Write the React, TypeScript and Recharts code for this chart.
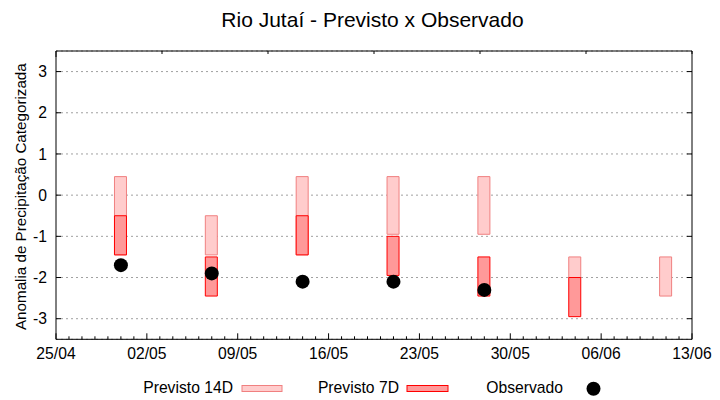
import React from 'react';
import { ComposedChart, Bar, Scatter, XAxis, YAxis, CartesianGrid, Legend } from 'recharts';

// ---- data ----
const dates = ['30/04', '07/05', '14/05', '21/05', '28/05', '04/06', '11/06'];
const prev14Low = [-1.45, -1.45, -1.45, -0.95, -0.95, -2.0, -2.45];
const prev14High = [0.45, -0.5, 0.45, 0.45, 0.45, -1.5, -1.5];
const prev7Low: (number | null)[] = [-1.45, -2.45, -1.45, -1.95, -2.45, -2.95, null];
const prev7High: (number | null)[] = [-0.5, -1.5, -0.5, -1.0, -1.5, -2.0, null];
const observed: (number | null)[] = [-1.7, -1.9, -2.1, -2.1, -2.3, null, null];

const tickLabels = ['25/04', '02/05', '09/05', '16/05', '23/05', '30/05', '06/06', '13/06'];
const yTicks = [-3, -2, -1, 0, 1, 2, 3];
const yDomain: [number, number] = [-3.5, 3.5];

const START = Date.UTC(2024, 3, 25);
const dayOf = (s: string) => {
  const [d, m] = s.split('/').map(Number);
  return Math.round((Date.UTC(2024, m - 1, d) - START) / 86400000);
};
const xDomain: [number, number] = [dayOf(tickLabels[0]), dayOf(tickLabels[tickLabels.length - 1])];
const majorTicks = tickLabels.map(dayOf);
const minorTicks: number[] = [];
for (let d = xDomain[0]; d <= xDomain[1]; d++) minorTicks.push(d);
const labelOf = (v: number) => tickLabels[majorTicks.indexOf(v)] ?? '';

const rows = dates.map((d, i) => ({
  day: dayOf(d),
  p14: [prev14Low[i], prev14High[i]],
  p7: prev7Low[i] == null ? null : [prev7Low[i], prev7High[i]],
}));
const obsRows = dates
  .map((d, i) => ({ day: dayOf(d), obs: observed[i] }))
  .filter((r) => r.obs != null);

// ---- styles ----
const FONT = '"Liberation Sans", Arial, sans-serif';
const FS = 15.7;
const C14_FILL = '#ffcccc';
const C14_STROKE = '#f08080';
const C7_FILL = '#ff9999';
const C7_STROKE = '#ff0000';

const isMajor = (v: number) => majorTicks.indexOf(v) >= 0;

const BottomTick = (p: any) => {
  const v = p.payload?.value;
  const major = isMajor(v);
  return (
    <g>
      <line x1={p.x} x2={p.x} y1={p.y} y2={p.y - (major ? 6 : 3)} stroke="#000" />
      {major && (
        <text x={p.x} y={p.y + 20} textAnchor="middle" fontFamily={FONT} fontSize={FS} fill="#000">
          {labelOf(v)}
        </text>
      )}
    </g>
  );
};

const TopTick = (p: any) => {
  const major = isMajor(p.payload?.value);
  return <line x1={p.x} x2={p.x} y1={p.y} y2={p.y + (major ? 6 : 3)} stroke="#000" />;
};

const LeftTick = (p: any) => (
  <g>
    <line x1={p.x} x2={p.x + 5} y1={p.y} y2={p.y} stroke="#000" />
    <text x={p.x - 9} y={p.y + 5.6} textAnchor="end" fontFamily={FONT} fontSize={FS} fill="#000">
      {p.payload?.value}
    </text>
  </g>
);

const RightTick = (p: any) => <line x1={p.x} x2={p.x - 5} y1={p.y} y2={p.y} stroke="#000" />;

const renderLegend = () => (
  <svg width={720} height={30} style={{ display: 'block' }}>
    <g fontFamily={FONT} fontSize={FS} fill="#000">
      <text x={233} y={22.5} textAnchor="end">Previsto 14D</text>
      <rect x={242} y={15.5} width={40} height={6} fill={C14_FILL} stroke={C14_STROKE} />
      <text x={399} y={22.5} textAnchor="end">Previsto 7D</text>
      <rect x={407} y={15.5} width={41} height={6} fill={C7_FILL} stroke={C7_STROKE} />
      <text x={563} y={22.5} textAnchor="end">Observado</text>
      <circle cx={593.5} cy={18.7} r={7} fill="#000" />
    </g>
  </svg>
);

const renderYLabel = (p: any) => {
  const vb = p.viewBox || { x: 0, y: 51, width: 56, height: 288 };
  const cx = 26;
  const cy = vb.y + vb.height / 2 + 1.5;
  return (
    <text
      x={cx}
      y={cy}
      transform={`rotate(-90 ${cx} ${cy})`}
      textAnchor="middle"
      fontFamily={FONT}
      fontSize={15.2}
      fill="#000"
    >
      Anomalia de Precipitação Categorizada
    </text>
  );
};

const dot = (p: any) => <circle cx={p.cx} cy={p.cy} r={7} fill="#000" />;

export default function App() {
  return (
    <div style={{ position: 'absolute', left: 0, top: 0, width: 720, height: 400, background: '#fff' }}>
      <svg width={720} height={40} style={{ position: 'absolute', left: 0, top: 0 }}>
        <text x={372.5} y={27.3} textAnchor="middle" fontFamily={FONT} fontSize={21} fill="#000">
          Rio Jutaí - Previsto x Observado
        </text>
      </svg>
      <ComposedChart
        width={720}
        height={400}
        data={rows}
        margin={{ top: 51, right: 28, bottom: 0, left: 0 }}
        style={{ position: 'absolute', left: 0, top: 0 }}
      >
        <CartesianGrid
          yAxisId="y"
          xAxisId="x"
          vertical={false}
          horizontal
          stroke="#a0a0a0"
          strokeDasharray="2 3"
        />
        {/* frame: top and right sides with inward ticks */}
        <XAxis xAxisId="top" orientation="top" mirror height={1} type="number" domain={xDomain}
          ticks={minorTicks} interval={0} tick={TopTick} tickLine={false} tickSize={0} tickMargin={0}
          stroke="#000" allowDataOverflow />
        <YAxis yAxisId="right" orientation="right" mirror width={1} type="number" domain={yDomain}
          ticks={yTicks} interval={0} tick={RightTick} tickLine={false} tickSize={0} tickMargin={0}
          stroke="#000" allowDataOverflow />

        {/* main axes */}
        <XAxis
          xAxisId="x"
          dataKey="day"
          type="number"
          domain={xDomain}
          ticks={minorTicks}
          interval={0}
          height={60.7}
          tickLine={false}
          tickSize={0}
          tickMargin={0}
          stroke="#000"
          tick={BottomTick}
          allowDataOverflow
        />
        <XAxis xAxisId="x7" dataKey="day" type="number" domain={xDomain} hide allowDataOverflow />
        <YAxis
          yAxisId="y"
          type="number"
          domain={yDomain}
          ticks={yTicks}
          interval={0}
          width={56}
          tickLine={false}
          tickSize={0}
          tickMargin={0}
          stroke="#000"
          tick={LeftTick}
          label={{ content: renderYLabel }}
          allowDataOverflow
        />

        <Legend
          layout="horizontal"
          align="center"
          verticalAlign="middle"
          wrapperStyle={{ top: 370, left: 0, width: 720, height: 30 }}
          content={renderLegend}
        />

        <Bar
          xAxisId="x"
          yAxisId="y"
          dataKey="p14"
          name="Previsto 14D"
          barSize={12}
          fill={C14_FILL}
          stroke={C14_STROKE}
          strokeWidth={1}
          isAnimationActive={false}
        />
        <Bar
          xAxisId="x7"
          yAxisId="y"
          dataKey="p7"
          name="Previsto 7D"
          barSize={12}
          fill={C7_FILL}
          stroke={C7_STROKE}
          strokeWidth={1}
          isAnimationActive={false}
        />
        <Scatter
          xAxisId="x"
          yAxisId="y"
          data={obsRows}
          dataKey="obs"
          name="Observado"
          shape={dot}
          fill="#000"
          isAnimationActive={false}
        />
      </ComposedChart>
    </div>
  );
}
